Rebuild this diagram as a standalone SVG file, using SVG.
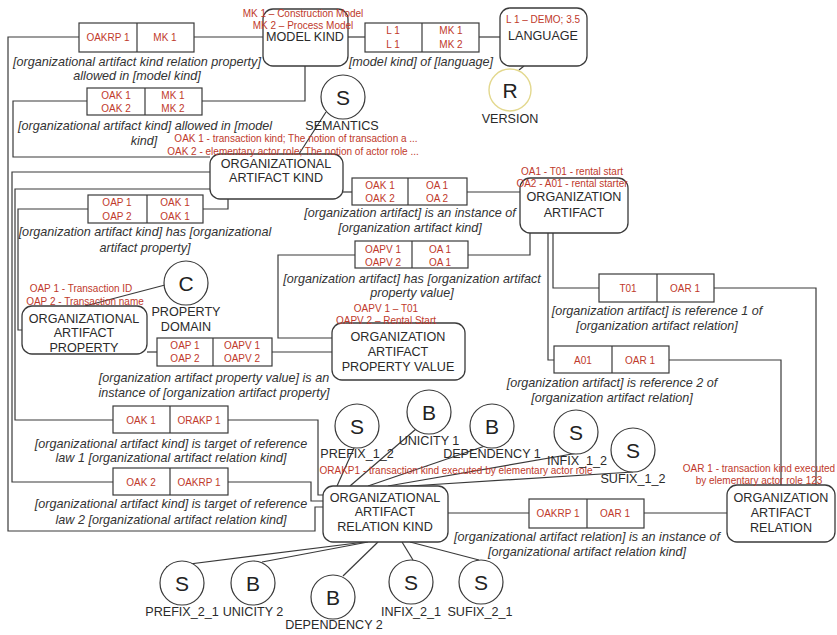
<svg xmlns="http://www.w3.org/2000/svg" width="837" height="635" viewBox="0 0 837 635">
<style>
.box{fill:#fff;stroke:#3a3a3a;stroke-width:1.3}
.cell{fill:#fff;stroke:#3a3a3a;stroke-width:1.2}
.cir{fill:#fff;stroke:#3a3a3a;stroke-width:1.2}
.ln{fill:none;stroke:#3a3a3a;stroke-width:1.2}
text{font-family:"Liberation Sans",Arial,sans-serif;text-anchor:middle;dominant-baseline:central}
.lb{font-size:12.6px;fill:#2a2a2a}
.rd{font-size:10px;fill:#c0392b}
.cp{font-size:12.6px;font-style:italic;fill:#333}
.lt{font-size:21px;fill:#222}
</style>
<rect width="837" height="635" fill="#fff"/>
<g id="connectors">
<path class="ln" d="M194,37H263"/>
<path class="ln" d="M79,37H8V531H315V507H323"/>
<path class="ln" d="M202,101H305V66"/>
<path class="ln" d="M87,101H13V157H210"/>
<path class="ln" d="M348,37H365"/>
<path class="ln" d="M479,37H500"/>
<path class="ln" d="M343,192H352"/>
<path class="ln" d="M467,192H520"/>
<path class="ln" d="M203,209H228V199"/>
<path class="ln" d="M88,209H18V330H22"/>
<path class="ln" d="M210,189H15V420H113"/>
<path class="ln" d="M228,420H318V495H323"/>
<path class="ln" d="M210,172H12V482H113"/>
<path class="ln" d="M228,482H311V501H323"/>
<path class="ln" d="M147,352H157"/>
<path class="ln" d="M272,352H332"/>
<path class="ln" d="M468,255H530V233"/>
<path class="ln" d="M355,255H278V338H332"/>
<path class="ln" d="M553,233V288H599"/>
<path class="ln" d="M714,288H816V485"/>
<path class="ln" d="M548,233V360H554"/>
<path class="ln" d="M669,360H781V485"/>
<path class="ln" d="M529,513H448"/>
<path class="ln" d="M644,513H727"/>
<path class="ln" d="M326,112L299,154"/>
<path class="ln" d="M165,285L85,306"/>
<path class="ln" d="M524,66L519,70"/>
<path class="ln" d="M337,486L354,448"/>
<path class="ln" d="M350,486L416,429"/>
<path class="ln" d="M368,486L485,446"/>
<path class="ln" d="M388,486L578,453"/>
<path class="ln" d="M410,486L633,472"/>
<path class="ln" d="M365,542L166,567"/>
<path class="ln" d="M368,542L262,562"/>
<path class="ln" d="M378,542L343,576"/>
<path class="ln" d="M402,542L413,560"/>
<path class="ln" d="M410,542L479,560"/>
</g>
<g id="model-kind"><rect class="box" x="263" y="9" width="85" height="57" rx="10"/><text class="lb" x="305" y="37">MODEL KIND</text><text class="rd" x="303" y="13">MK 1 – Construction Model</text><text class="rd" x="303" y="25">MK 2 – Process Model</text></g>
<g id="language"><rect class="box" x="500" y="8" width="87" height="58" rx="10"/><text class="rd" x="543" y="19">L 1 – DEMO; 3.5</text><text class="lb" x="543" y="36">LANGUAGE</text></g>
<g id="version"><circle cx="510" cy="90" r="21" fill="#fff" stroke="#e3d88e" stroke-width="1.4"/><text class="lt" x="510" y="90">R</text><text class="lb" x="510" y="119">VERSION</text></g>
<g id="semantics"><circle class="cir" cx="343" cy="97" r="22"/><text class="lt" x="343" y="97">S</text><text class="lb" x="342" y="126">SEMANTICS</text></g>
<g id="organizational-artifact-kind"><rect class="box" x="210" y="154" width="133" height="45" rx="10"/><text class="lb" x="276" y="164">ORGANIZATIONAL</text><text class="lb" x="276" y="178">ARTIFACT KIND</text><text class="rd" x="296" y="138">OAK 1 - transaction kind; The notion of transaction a ...</text><text class="rd" x="293" y="151">OAK 2 - elementary actor role; The notion of actor role ...</text></g>
<g id="organization-artifact"><rect class="box" x="520" y="178" width="108" height="55" rx="10"/><text class="lb" x="574" y="197">ORGANIZATION</text><text class="lb" x="574" y="213">ARTIFACT</text><text class="rd" x="572" y="171">OA1 - T01 - rental start</text><text class="rd" x="572" y="183">OA2 - A01 - rental starter</text></g>
<g id="organizational-artifact-property"><rect class="box" x="22" y="306" width="125" height="48" rx="10"/><text class="lb" x="84" y="319">ORGANIZATIONAL</text><text class="lb" x="84" y="333">ARTIFACT</text><text class="lb" x="84" y="348">PROPERTY</text><text class="rd" x="81" y="288">OAP 1 - Transaction ID</text><text class="rd" x="85" y="301">OAP 2 - Transaction name</text></g>
<g id="property-domain"><circle class="cir" cx="186" cy="283" r="22"/><text class="lt" x="186" y="283">C</text><text class="lb" x="186" y="312">PROPERTY</text><text class="lb" x="186" y="327">DOMAIN</text></g>
<g id="organization-artifact-property-value"><rect class="box" x="332" y="323" width="133" height="57" rx="10"/><text class="lb" x="398" y="337">ORGANIZATION</text><text class="lb" x="398" y="352">ARTIFACT</text><text class="lb" x="398" y="367">PROPERTY VALUE</text><text class="rd" x="386" y="308">OAPV 1 – T01</text><text class="rd" x="386" y="320">OAPV 2 – Rental Start</text></g>
<g id="organizational-artifact-relation-kind"><rect class="box" x="323" y="486" width="125" height="56" rx="10"/><text class="lb" x="385" y="498">ORGANIZATIONAL</text><text class="lb" x="385" y="512">ARTIFACT</text><text class="lb" x="385" y="527">RELATION KIND</text><text class="rd" x="456" y="470">ORAKP1 - transaction kind executed by elementary actor role</text></g>
<g id="organizational-artifact-relation"><rect class="box" x="727" y="485" width="108" height="57" rx="10"/><text class="lb" x="781" y="498">ORGANIZATION</text><text class="lb" x="781" y="513">ARTIFACT</text><text class="lb" x="781" y="528">RELATION</text><text class="rd" x="759" y="468">OAR 1 - transaction kind executed</text><text class="rd" x="759" y="480">by elementary actor role 123</text></g>
<g id="prefix-1-2"><circle class="cir" cx="357" cy="426" r="22"/><text class="lt" x="357" y="426">S</text><text class="lb" x="357" y="454">PREFIX_1_2</text></g>
<g id="unicity-1"><circle class="cir" cx="429" cy="412" r="22"/><text class="lt" x="429" y="412">B</text><text class="lb" x="429" y="441">UNICITY 1</text></g>
<g id="dependency-1"><circle class="cir" cx="492" cy="426" r="22"/><text class="lt" x="492" y="426">B</text><text class="lb" x="492" y="454">DEPENDENCY 1</text></g>
<g id="infix-1-2"><circle class="cir" cx="576" cy="432" r="22"/><text class="lt" x="576" y="432">S</text><text class="lb" x="577" y="461">INFIX_1_2</text></g>
<g id="sufix-1-2"><circle class="cir" cx="633" cy="450" r="22"/><text class="lt" x="633" y="450">S</text><text class="lb" x="633" y="479">SUFIX_1_2</text></g>
<g id="prefix-2-1"><circle class="cir" cx="182" cy="583" r="22"/><text class="lt" x="182" y="583">S</text><text class="lb" x="182" y="612">PREFIX_2_1</text></g>
<g id="unicity-2"><circle class="cir" cx="253" cy="583" r="22"/><text class="lt" x="253" y="583">B</text><text class="lb" x="253" y="612">UNICITY 2</text></g>
<g id="dependency-2"><circle class="cir" cx="333" cy="597" r="22"/><text class="lt" x="333" y="597">B</text><text class="lb" x="334" y="625">DEPENDENCY 2</text></g>
<g id="infix-2-1"><circle class="cir" cx="411" cy="582" r="22"/><text class="lt" x="411" y="582">S</text><text class="lb" x="411" y="612">INFIX_2_1</text></g>
<g id="sufix-2-1"><circle class="cir" cx="481" cy="582" r="22"/><text class="lt" x="481" y="582">S</text><text class="lb" x="480" y="612">SUFIX_2_1</text></g>
<g id="rel-oakrp-mk"><rect class="cell" x="79" y="23" width="115" height="29"/><path class="ln" d="M137,23V52"/><text class="rd" x="108" y="37">OAKRP 1</text><text class="rd" x="165" y="37">MK 1</text><text class="cp" x="137" y="62">[organizational artifact kind relation property]</text><text class="cp" x="137" y="76">allowed in [model kind]</text></g>
<g id="rel-oak-mk"><rect class="cell" x="87" y="88" width="115" height="27"/><path class="ln" d="M145,88V115"/><text class="rd" x="116" y="95">OAK 1</text><text class="rd" x="116" y="108">OAK 2</text><text class="rd" x="173" y="95">MK 1</text><text class="rd" x="173" y="108">MK 2</text><text class="cp" x="145" y="126">[organizational artifact kind] allowed in [model</text><text class="cp" x="144" y="141">kind]</text></g>
<g id="rel-mk-language"><rect class="cell" x="365" y="23" width="114" height="29"/><path class="ln" d="M422,23V52"/><text class="rd" x="393" y="30">L 1</text><text class="rd" x="393" y="44">L 1</text><text class="rd" x="451" y="30">MK 1</text><text class="rd" x="451" y="44">MK 2</text><text class="cp" x="421" y="62">[model kind] of [language]</text></g>
<g id="rel-oa-instance"><rect class="cell" x="352" y="178" width="115" height="27"/><path class="ln" d="M408,178V205"/><text class="rd" x="380" y="185">OAK 1</text><text class="rd" x="380" y="198">OAK 2</text><text class="rd" x="437" y="185">OA 1</text><text class="rd" x="437" y="198">OA 2</text><text class="cp" x="410" y="213">[organization artifact] is an instance of</text><text class="cp" x="410" y="228">[organization artifact kind]</text></g>
<g id="rel-oak-oap"><rect class="cell" x="88" y="195" width="115" height="28"/><path class="ln" d="M147,195V223"/><text class="rd" x="117" y="202">OAP 1</text><text class="rd" x="117" y="216">OAP 2</text><text class="rd" x="175" y="202">OAK 1</text><text class="rd" x="175" y="216">OAK 1</text><text class="cp" x="145" y="232">[organization artifact kind] has [organizational</text><text class="cp" x="145" y="248">artifact property]</text></g>
<g id="rel-oa-oapv"><rect class="cell" x="355" y="241" width="113" height="27"/><path class="ln" d="M412,241V268"/><text class="rd" x="383" y="249">OAPV 1</text><text class="rd" x="383" y="262">OAPV 2</text><text class="rd" x="440" y="249">OA 1</text><text class="rd" x="440" y="262">OA 1</text><text class="cp" x="412" y="279">[organization artifact] has [organization artifact</text><text class="cp" x="412" y="293">property value]</text></g>
<g id="rel-oapv-oap"><rect class="cell" x="157" y="338" width="115" height="28"/><path class="ln" d="M213,338V366"/><text class="rd" x="185" y="345">OAP 1</text><text class="rd" x="185" y="358">OAP 2</text><text class="rd" x="242" y="345">OAPV 1</text><text class="rd" x="242" y="358">OAPV 2</text><text class="cp" x="214" y="378">[organization artifact property value] is an</text><text class="cp" x="214" y="393">instance of [organization artifact property]</text></g>
<g id="rel-ref1"><rect class="cell" x="599" y="274" width="115" height="28"/><path class="ln" d="M657,274V302"/><text class="rd" x="628" y="288">T01</text><text class="rd" x="685" y="288">OAR 1</text><text class="cp" x="657" y="311">[organization artifact] is reference 1 of</text><text class="cp" x="657" y="326">[organization artifact relation]</text></g>
<g id="rel-ref2"><rect class="cell" x="554" y="346" width="115" height="27"/><path class="ln" d="M612,346V373"/><text class="rd" x="583" y="360">A01</text><text class="rd" x="640" y="360">OAR 1</text><text class="cp" x="612" y="383">[organization artifact] is reference 2 of</text><text class="cp" x="612" y="398">[organization artifact relation]</text></g>
<g id="rel-law1"><rect class="cell" x="113" y="406" width="115" height="27"/><path class="ln" d="M170,406V433"/><text class="rd" x="141" y="420">OAK 1</text><text class="rd" x="199" y="420">ORAKP 1</text><text class="cp" x="171" y="444">[organizational artifact kind] is target of reference</text><text class="cp" x="171" y="458">law 1 [organizational artifact relation kind]</text></g>
<g id="rel-law2"><rect class="cell" x="113" y="468" width="115" height="27"/><path class="ln" d="M170,468V495"/><text class="rd" x="141" y="482">OAK 2</text><text class="rd" x="199" y="482">OAKRP 1</text><text class="cp" x="171" y="504">[organizational artifact kind] is target of reference</text><text class="cp" x="171" y="520">law 2 [organizational artifact relation kind]</text></g>
<g id="rel-oar-instance"><rect class="cell" x="529" y="499" width="115" height="29"/><path class="ln" d="M587,499V528"/><text class="rd" x="558" y="513">OAKRP 1</text><text class="rd" x="615" y="513">OAR 1</text><text class="cp" x="587" y="537">[organizational artifact relation] is an instance of</text><text class="cp" x="587" y="552">[organizational artifact relation kind]</text></g>
</svg>
